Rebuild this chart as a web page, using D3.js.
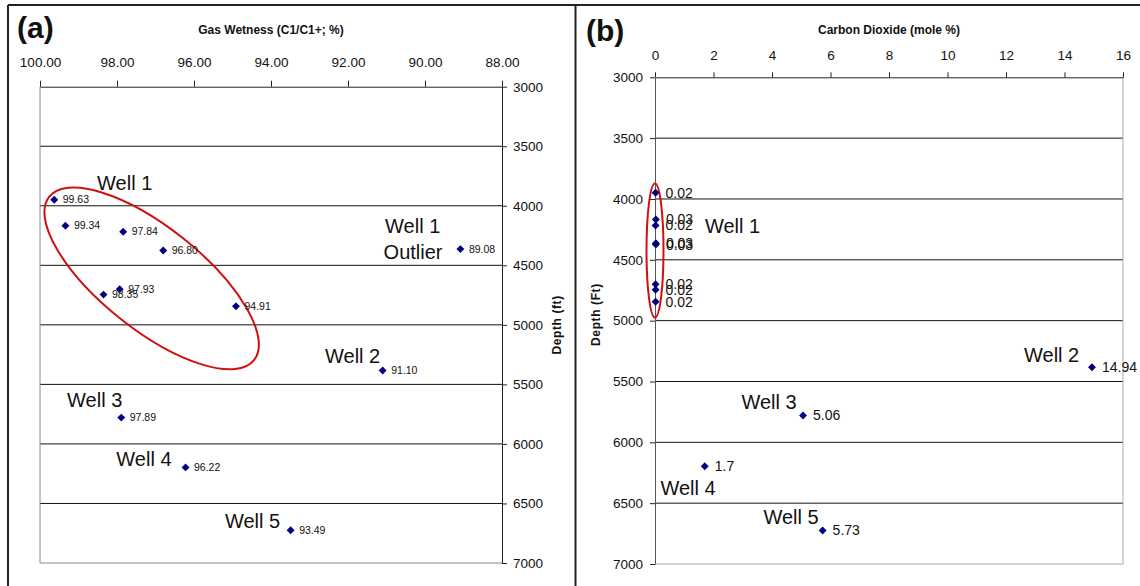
<!DOCTYPE html>
<html>
<head>
<meta charset="utf-8">
<script src="https://cdn.jsdelivr.net/npm/d3@7"></script>
<style>
    body { margin: 0; background: #fff; }
    text { font-family: "Liberation Sans", Arial, sans-serif; fill: #111; }
    .axis path, .axis line { stroke: #222; }
    .axis text { font-size: 13.5px; }
    .well { font-size: 20px; }
</style>
</head>
<body>
<div id="chart"></div>
<script>
// one entry per sample
var depths  = [3949, 4168, 4218, 4364, 4375, 4701, 4746, 4844, 5383, 5779, 6197, 6725];
var wetness = [99.63, 99.34, 97.84, 89.08, 96.80, 97.93, 98.35, 94.91, 91.10, 97.89, 96.22, 93.49];
var co2     = [0.02, 0.03, 0.02, 0.03, 0.03, 0.02, 0.02, 0.02, 14.94, 5.06, 1.7, 5.73];
var co2Labels = ["0.02", "0.03", "0.02", "0.03", "0.03", "0.02", "0.02", "0.02", "14.94", "5.06", "1.7", "5.73"];

var wetTicks = [100, 98, 96, 94, 92, 90, 88];
var co2Ticks = [0, 2, 4, 6, 8, 10, 12, 14, 16];
var depthTicks = [3000, 3500, 4000, 4500, 5000, 5500, 6000, 6500, 7000];

// well name annotations, placed in data units [x value, depth]
var wetNotes = [
    ["Well 1", 97.80, 3868], ["Well 1", 90.32, 4228], ["Outlier", 90.31, 4447],
    ["Well 2", 91.88, 5320], ["Well 3", 98.58, 5689], ["Well 4", 97.30, 6184],
    ["Well 5", 94.48, 6705]
];
var co2Notes = [
    ["Well 1", 2.65, 4276], ["Well 2", 13.56, 5342], ["Well 3", 3.90, 5726],
    ["Well 4", 1.13, 6432], ["Well 5", 4.65, 6670]
];

function init() {
    var w = 1140;
    var h = 586;

    var svg = d3.select("#chart")
        .append("svg")
        .attr("width", w)
        .attr("height", h);

    var samples = depths.map(function (d, i) {
        return { depth: d, wet: wetness[i], co2: co2[i], co2Label: co2Labels[i] };
    });

    // frame round the two panels
    svg.append("line").attr("x1", 8).attr("y1", 5).attr("x2", w).attr("y2", 5)
        .style("stroke", "#222").style("stroke-width", 2);
    svg.append("line").attr("x1", 8).attr("y1", 5).attr("x2", 8).attr("y2", h)
        .style("stroke", "#222").style("stroke-width", 2);
    svg.append("line").attr("x1", 575.5).attr("y1", 5).attr("x2", 575.5).attr("y2", h)
        .style("stroke", "#222").style("stroke-width", 2);

    var diamond = d3.symbol().type(d3.symbolDiamond2).size(40);

    // ---------- panel (a) ----------
    var xA = d3.scaleLinear().domain([100, 88]).range([40, 502]);
    var yA = d3.scaleLinear().domain([3000, 7000]).range([86.7, 563]);

    var gA = svg.append("g");

    gA.selectAll(".grid")
        .data(depthTicks.slice(1, -1))
        .enter().append("line")
        .attr("x1", xA(100)).attr("x2", xA(88))
        .attr("y1", function (d) { return yA(d); })
        .attr("y2", function (d) { return yA(d); })
        .style("stroke", "#111");

    // plot area border (grey sides)
    gA.append("line")
        .attr("x1", xA(100)).attr("x2", xA(100)).attr("y1", yA(3000)).attr("y2", yA(7000))
        .style("stroke", "#888");
    gA.append("line")
        .attr("x1", xA(100)).attr("x2", xA(88)).attr("y1", yA(7000)).attr("y2", yA(7000))
        .style("stroke", "#888");

    gA.append("g").attr("class", "axis")
        .attr("transform", `translate(0,${yA(3000)})`)
        .call(d3.axisTop(xA).tickValues(wetTicks).tickFormat(d3.format(".2f"))
            .tickSize(6).tickSizeOuter(0).tickPadding(14));

    gA.append("g").attr("class", "axis")
        .attr("transform", `translate(${xA(88)},0)`)
        .call(d3.axisRight(yA).tickValues(depthTicks).tickFormat(d3.format("d"))
            .tickSize(5).tickSizeOuter(0).tickPadding(6));

    gA.append("text")
        .attr("x", (xA(100) + xA(88)) / 2).attr("y", 34)
        .attr("text-anchor", "middle")
        .style("font-size", "12px").style("font-weight", "bold")
        .text("Gas Wetness (C1/C1+; %)");

    gA.append("text")
        .attr("transform", `translate(561,${yA(5000)}) rotate(-90)`)
        .attr("text-anchor", "middle")
        .style("font-size", "12px").style("font-weight", "bold").style("letter-spacing", "0.6px")
        .text("Depth (ft)");

    gA.append("text").attr("x", 17).attr("y", 38)
        .style("font-size", "30px").style("font-weight", "bold")
        .text("(a)");

    // red ring round the Well 1 samples
    gA.append("ellipse")
        .attr("transform", `translate(${xA(97.1)},${yA(4610)}) rotate(38.6)`)
        .attr("rx", 131).attr("ry", 51)
        .style("fill", "none").style("stroke", "#d01010").style("stroke-width", 2);

    gA.selectAll(".pt")
        .data(samples)
        .enter().append("path")
        .attr("d", diamond)
        .attr("transform", function (d) { return `translate(${xA(d.wet)},${yA(d.depth)})`; })
        .style("fill", "#000080");

    gA.selectAll(".lbl")
        .data(samples)
        .enter().append("text")
        .attr("x", function (d) { return xA(d.wet) + 8.5; })
        .attr("y", function (d) { return yA(d.depth); })
        .attr("dy", "0.35em")
        .style("font-size", "10.5px")
        .text(function (d) { return d.wet.toFixed(2); });

    gA.selectAll(".well")
        .data(wetNotes)
        .enter().append("text")
        .attr("class", "well")
        .attr("x", function (d) { return xA(d[1]); })
        .attr("y", function (d) { return yA(d[2]); })
        .attr("text-anchor", "middle")
        .text(function (d) { return d[0]; });

    // ---------- panel (b) ----------
    var xB = d3.scaleLinear().domain([0, 16]).range([655, 1123]);
    var yB = d3.scaleLinear().domain([3000, 7000]).range([77.3, 564]);

    var gB = svg.append("g");

    gB.selectAll(".grid")
        .data(depthTicks.slice(1, -1))
        .enter().append("line")
        .attr("x1", xB(0)).attr("x2", xB(16))
        .attr("y1", function (d) { return yB(d); })
        .attr("y2", function (d) { return yB(d); })
        .style("stroke", "#111");

    gB.append("line")
        .attr("x1", xB(16)).attr("x2", xB(16)).attr("y1", yB(3000)).attr("y2", yB(7000))
        .style("stroke", "#aaa");
    gB.append("line")
        .attr("x1", xB(0)).attr("x2", xB(16)).attr("y1", yB(7000)).attr("y2", yB(7000))
        .style("stroke", "#aaa");

    gB.append("g").attr("class", "axis")
        .attr("transform", `translate(0,${yB(3000)})`)
        .call(d3.axisTop(xB).tickValues(co2Ticks).tickSize(5).tickSizeOuter(0).tickPadding(12));

    gB.append("g").attr("class", "axis")
        .attr("transform", `translate(${xB(0)},0)`)
        .call(d3.axisLeft(yB).tickValues(depthTicks).tickFormat(d3.format("d"))
            .tickSize(5).tickSizeOuter(0).tickPadding(7));

    gB.select(".axis:last-of-type path").style("stroke", "#555");

    gB.append("text")
        .attr("x", (xB(0) + xB(16)) / 2).attr("y", 34)
        .attr("text-anchor", "middle")
        .style("font-size", "12px").style("font-weight", "bold")
        .text("Carbon Dioxide (mole %)");

    gB.append("text")
        .attr("transform", `translate(600,${yB(4950)}) rotate(-90)`)
        .attr("text-anchor", "middle")
        .style("font-size", "12px").style("font-weight", "bold").style("letter-spacing", "0.6px")
        .text("Depth (Ft)");

    gB.append("text").attr("x", 586).attr("y", 41)
        .style("font-size", "30px").style("font-weight", "bold")
        .text("(b)");

    gB.append("ellipse")
        .attr("cx", xB(0)).attr("cy", yB(4424))
        .attr("rx", 8.5).attr("ry", 67)
        .style("fill", "none").style("stroke", "#d01010").style("stroke-width", 2);

    gB.selectAll(".pt")
        .data(samples)
        .enter().append("path")
        .attr("d", diamond)
        .attr("transform", function (d) { return `translate(${xB(d.co2)},${yB(d.depth)})`; })
        .style("fill", "#000080");

    gB.selectAll(".lbl")
        .data(samples)
        .enter().append("text")
        .attr("x", function (d) { return xB(d.co2) + 10; })
        .attr("y", function (d) { return yB(d.depth); })
        .attr("dy", "0.35em")
        .style("font-size", "14px")
        .text(function (d) { return d.co2Label; });

    gB.selectAll(".well")
        .data(co2Notes)
        .enter().append("text")
        .attr("class", "well")
        .attr("x", function (d) { return xB(d[1]); })
        .attr("y", function (d) { return yB(d[2]); })
        .attr("text-anchor", "middle")
        .text(function (d) { return d[0]; });
}

window.onload = init;
</script>
</body>
</html>
